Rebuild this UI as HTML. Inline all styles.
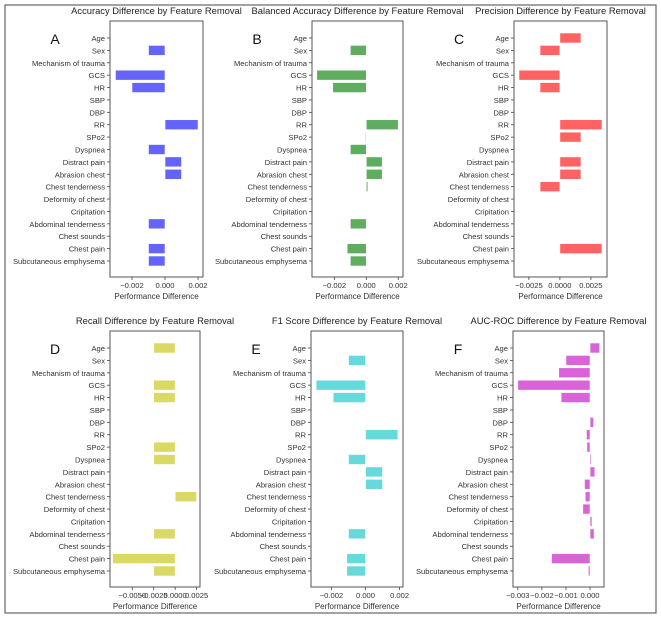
<!DOCTYPE html>
<html><head><meta charset="utf-8"><style>
body{margin:0;background:#fff;}
svg{display:block;font-family:"Liberation Sans",sans-serif;}
</style></head><body>
<svg id="fig" width="661" height="617" viewBox="0 0 661 617">
<rect x="5" y="5" width="651" height="608" fill="#fff" stroke="#666" stroke-width="1.2"/>
</svg>
<script>
const features = ["Age","Sex","Mechanism of trauma","GCS","HR","SBP","DBP","RR","SPo2","Dyspnea","Distract pain","Abrasion chest","Chest tenderness","Deformity of chest","Cripitation","Abdominal tenderness","Chest sounds","Chest pain","Subcutaneous emphysema"];
const accuracyValues = [0,-0.001,0,-0.003,-0.002,0,0,0.002,0,-0.001,0.001,0.001,0,0,0,-0.001,0,-0.001,-0.001];
const balancedValues = [0.00003,-0.001,0,-0.0031,-0.0021,0,0,0.002,-0.00005,-0.001,0.001,0.001,0.0001,0,0,-0.001,0,-0.0012,-0.001];
const precisionValues = [0.0017,-0.0016,0,-0.0033,-0.0016,0,0,0.0034,0.0017,0,0.0017,0.0017,-0.0016,0,0,0,0,0.0034,0];
const recallValues = [-0.0025,0,0,-0.0025,-0.0025,0,0,0,-0.0025,-0.0025,0,0,0.0025,0,0,-0.0025,0,-0.0073,-0.0025];
const f1Values = [0.00003,-0.001,0,-0.0029,-0.0019,0,0,0.0019,-0.00003,-0.001,0.001,0.001,0,0,0,-0.001,0,-0.0011,-0.0011];
const aucValues = [0.0004,-0.001,-0.0013,-0.003,-0.0012,0,0.00015,-0.00015,-0.00013,0.00005,0.0002,-0.00023,-0.0002,-0.0003,0.00008,0.00017,-0.00002,-0.0016,-0.00007];
const ticksAB = [-0.002,0,0.002];
const tickLabelsAB = ["\u22120.002","0.000","0.002"];
const ticksC = [-0.0025,0,0.0025];
const tickLabelsC = ["\u22120.0025","0.0000","0.0025"];
const ticksD = [-0.005,-0.0025,0,0.0025];
const tickLabelsD = ["\u22120.0050","\u22120.0025","0.0000","0.0025"];
const ticksF = [-0.003,-0.002,-0.001,0];
const tickLabelsF = ["\u22120.003","\u22120.002","\u22120.001","0.000"];

const panels = [
 {id:"a",letter:"A",title:"Accuracy Difference by Feature Removal",vals:accuracyValues,ticks:ticksAB,labels:tickLabelsAB,color:"#6464fa",x0:110,x1:203,dmin:-0.00333,dmax:0.0023,top:21},
 {id:"b",letter:"B",title:"Balanced Accuracy Difference by Feature Removal",vals:balancedValues,ticks:ticksAB,labels:tickLabelsAB,color:"#5fad5f",x0:312,x1:403,dmin:-0.0034,dmax:0.0023,top:21},
 {id:"c",letter:"C",title:"Precision Difference by Feature Removal",vals:precisionValues,ticks:ticksC,labels:tickLabelsC,color:"#ff6262",x0:514,x1:607,dmin:-0.0037,dmax:0.0038,top:21},
 {id:"d",letter:"D",title:"Recall Difference by Feature Removal",vals:recallValues,ticks:ticksD,labels:tickLabelsD,color:"#d9d964",x0:110,x1:200,dmin:-0.0076,dmax:0.0029,top:331},
 {id:"e",letter:"E",title:"F1 Score Difference by Feature Removal",vals:f1Values,ticks:ticksAB,labels:tickLabelsAB,color:"#66dada",x0:311,x1:403,dmin:-0.0032,dmax:0.0022,top:331},
 {id:"f",letter:"F",title:"AUC-ROC Difference by Feature Removal",vals:aucValues,ticks:ticksF,labels:tickLabelsF,color:"#d864d8",x0:513,x1:604,dmin:-0.0032,dmax:0.00058,top:331}
];
const NS="http://www.w3.org/2000/svg";
const fig=document.getElementById("fig");
function mk(tag,attrs,parent){const e=document.createElementNS(NS,tag);for(const k in attrs)e.setAttribute(k,attrs[k]);parent.appendChild(e);return e;}
panels.forEach(p=>{
  const g=mk("g",{},fig);
  
  
  const top=p.top, bottom=top+256;
  const n=features.length;
  const rowY=i=>top+17+i*(bottom-16-(top+17))/(n-1);
  const xs=v=>p.x0+(v-p.dmin)/(p.dmax-p.dmin)*(p.x1-p.x0);
  const cx=(p.x0+p.x1)/2;
  const t=mk("text",{x:cx,y:top-7,"text-anchor":"middle","font-size":"9.4",fill:"#222"},g);
  t.textContent=p.title;
  
  
  const L=mk("text",{x:p.x0-55,y:top+23,"text-anchor":"middle","font-size":"14",fill:"#111"},g);
  L.textContent=p.letter;
  
  
  const bh=10;
  p.vals.forEach((v,i)=>{
    const y=rowY(i);
    const a=xs(Math.min(0,v)), b=xs(Math.max(0,v));
    const r=mk("rect",{x:a,y:y-bh/2,width:Math.max(b-a,0.001),height:bh,fill:p.color,stroke:"#fff","stroke-width":"0.6"},g);
    
    
    mk("line",{x1:p.x0-3,x2:p.x0,y1:y,y2:y,stroke:"#444","stroke-width":"0.8"},g);
    const lt=mk("text",{x:p.x0-5,y:y+3,"text-anchor":"end","font-size":"7.6",fill:"#333"},g);
    lt.textContent=features[i];
    
    
  });
  const fr=mk("rect",{x:p.x0,y:top,width:p.x1-p.x0,height:bottom-top,fill:"none",stroke:"#555","stroke-width":"1"},g);
  
  
  p.ticks.forEach((tv,k)=>{
    const x=xs(tv);
    mk("line",{x1:x,x2:x,y1:bottom,y2:bottom+3,stroke:"#444","stroke-width":"0.8"},g);
    const tl=mk("text",{x:x,y:bottom+11,"text-anchor":"middle","font-size":"7.6",fill:"#333"},g);
    tl.textContent=p.labels[k];
    
    
  });
  const xl=mk("text",{x:cx,y:bottom+22,"text-anchor":"middle","font-size":"8",fill:"#333"},g);
  xl.textContent="Performance Difference";
  
  
});
</script>
</body></html>
